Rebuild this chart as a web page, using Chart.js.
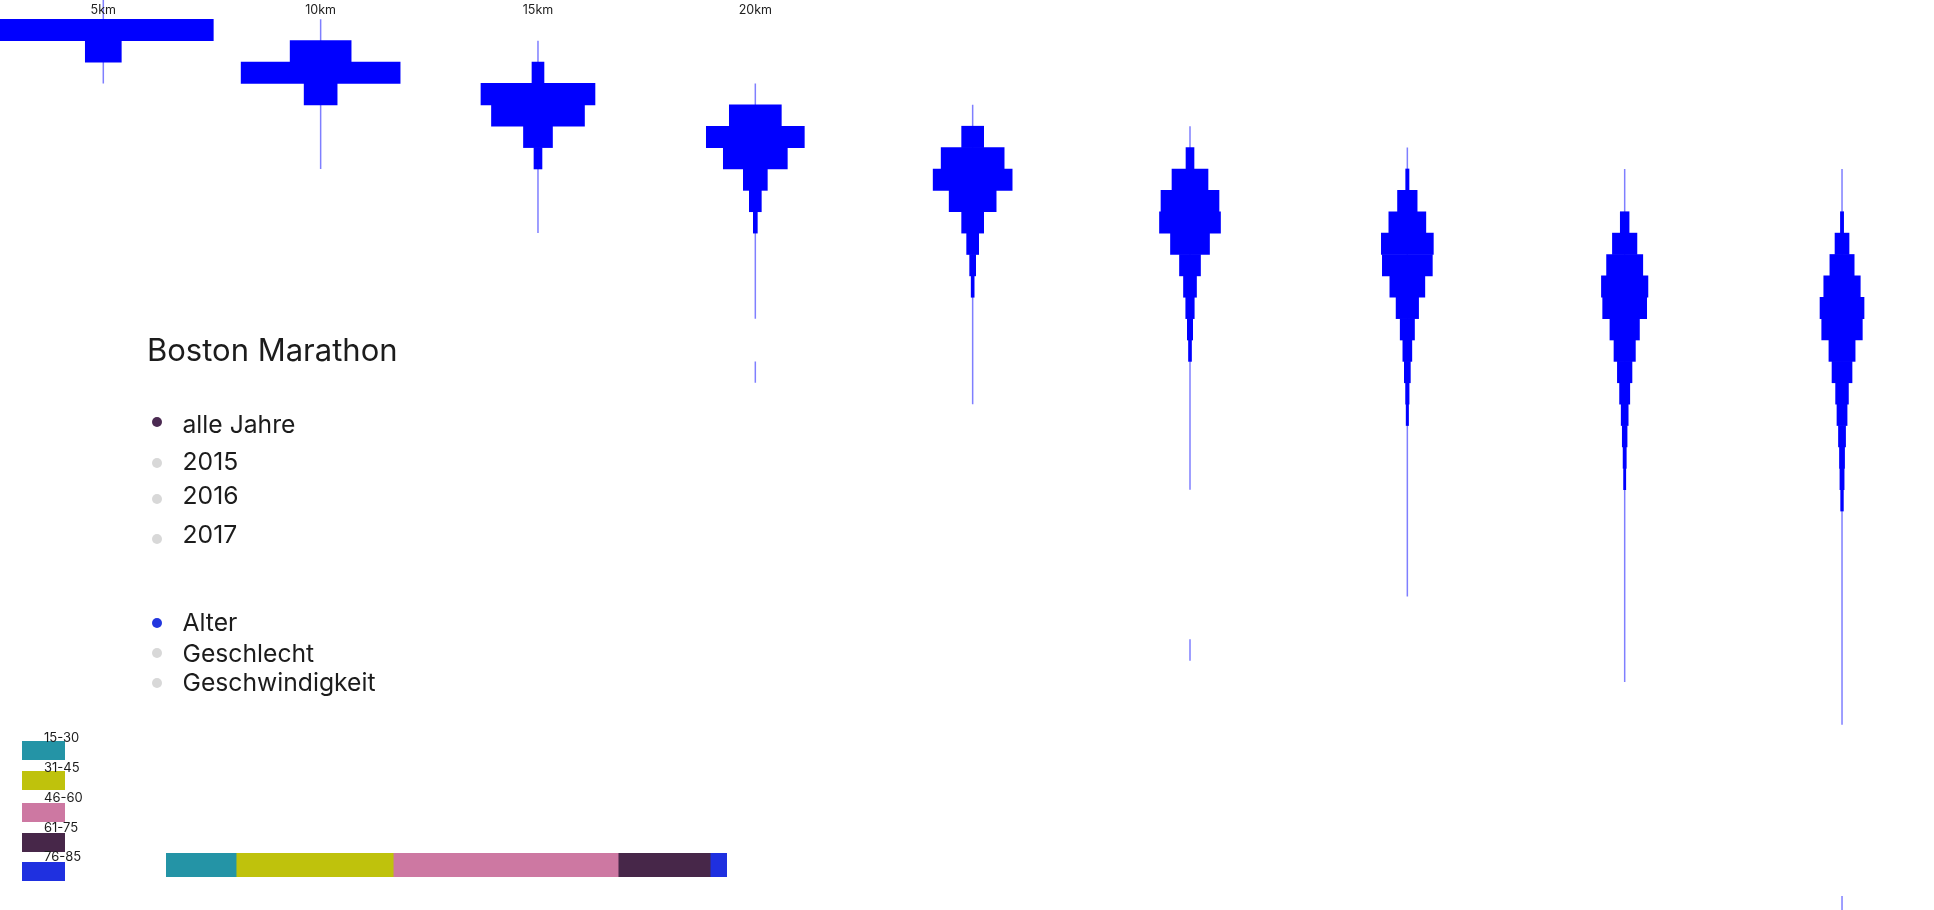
<!DOCTYPE html>
<html>
<head>
<meta charset="utf-8">
<title>Boston Marathon</title>
<script src="https://cdn.jsdelivr.net/npm/chart.js@4.4.1/dist/chart.umd.min.js"></script>
<style>
  html, body { margin: 0; padding: 0; background: #fff; }
  body { position: relative; width: 1934px; height: 910px; overflow: hidden; font-family: Inter, "Noto Sans", sans-serif; color: #1c1c1c; }
  #main { position: absolute; left: 0; top: 0; }
  #ageWrap { position: absolute; left: 166px; top: 853px; width: 561px; height: 24px; }
  .txt { position: absolute; line-height: 0; white-space: nowrap; }
  .dot { position: absolute; width: 10px; height: 10px; border-radius: 50%; }
  .swatch { position: absolute; left: 22px; width: 43px; height: 19px; }
</style>
</head>
<body>
<canvas id="main" width="1934" height="910"></canvas>
<div id="ageWrap"><canvas id="ageChart" width="561" height="24"></canvas></div>
<div id="overlay"></div>
<script>
// Messpunkte, nur die ersten vier sind beschriftet
const checkpoints = ['5km', '10km', '15km', '20km', '25km', '30km', '35km', '40km', 'Ziel']
const tickLabels = ['5km', '10km', '15km', '20km']

// Laeufer pro Zeitfenster (relative Breite), ab dem ersten besetzten Zeitfenster
const firstBin = [0, 1, 2, 4, 5, 6, 7, 9, 9]
const counts5km = [220, 36]
const counts10km = [61, 159, 33]
const counts15km = [12, 114, 93, 29, 8]
const counts20km = [52, 98, 64, 24, 12, 4]
const counts25km = [22, 63, 79, 47, 22, 12, 6, 3]
const counts30km = [8, 36, 58, 61, 39, 21, 13, 8.5, 5.3, 3]
const counts35km = [3.3, 19.6, 37, 52, 50, 35, 22.5, 14.3, 9, 6, 3.5, 2.4]
const counts40km = [8.8, 24.5, 36.2, 46.5, 44, 29.5, 21.4, 14.6, 10.2, 7, 4.8, 3.2, 2.2]
const countsZiel = [3.2, 14, 24.3, 36.5, 44, 40.6, 26.2, 20, 12.8, 10.1, 7.1, 5.1, 4.2, 2.7]

// Spanne schnellste bis langsamste Zeit (Zeitfenster-Grenzen) und Ausreisser
const rangeStart = [-1, 0, 1, 3, 4, 5, 6, 7, 7]
const rangeEnd = [3, 7, 10, 14, 18, 22, 27, 31, 33]
const outlierBin = [null, null, null, 16, null, 29, null, null, 41]

// Altersgruppen in Prozent
const ageGroups = ['15-30', '31-45', '46-60', '61-75', '76-85']
const ageShares = [12.5, 28.0, 40.1, 16.4, 3.0]
const ageColors = ['#2494a6', '#bfc20c', '#cd78a2', '#472749', '#1f30e0']

const yearOptions = ['alle Jahre', '2015', '2016', '2017']
const groupOptions = ['Alter', 'Geschlecht', 'Geschwindigkeit']

const binCounts = [counts5km, counts10km, counts15km, counts20km, counts25km, counts30km, counts35km, counts40km, countsZiel]
const WIDTH_UNITS = 217.34 // Breite eines Abstands zwischen zwei Messpunkten

const barDatasets = checkpoints.map((name, i) => ({
  type: 'bar',
  label: name,
  indexAxis: 'y',
  data: binCounts[i].map((c, j) => ({
    y: firstBin[i] + j,
    x: [i - c / (2 * WIDTH_UNITS), i + c / (2 * WIDTH_UNITS)]
  })),
  backgroundColor: '#0000ff',
  borderWidth: 0,
  grouped: false,
  barPercentage: 1,
  categoryPercentage: 1,
  order: 2
}))

const rangeDatasets = checkpoints.map((name, i) => {
  const points = [{ x: i, y: rangeStart[i] - 0.5 }, { x: i, y: rangeEnd[i] - 0.5 }]
  if (outlierBin[i] !== null) {
    points.push({ x: i, y: NaN }, { x: i, y: outlierBin[i] - 0.5 }, { x: i, y: outlierBin[i] + 0.5 })
  }
  return {
    type: 'line',
    label: name + ' Spanne',
    data: points,
    borderColor: 'rgba(0, 0, 255, 0.5)',
    borderWidth: 1.5,
    pointRadius: 0,
    fill: false,
    spanGaps: false,
    order: 1
  }
})

const checkpointLabels = {
  id: 'checkpointLabels',
  afterDatasetsDraw(chart) {
    const { ctx, scales: { x } } = chart
    ctx.save()
    ctx.font = '12.5px Inter'
    ctx.fillStyle = '#222'
    ctx.textAlign = 'center'
    ctx.textBaseline = 'alphabetic'
    tickLabels.forEach((label, i) => ctx.fillText(label, x.getPixelForValue(i), 13.5))
    ctx.restore()
  }
}

new Chart(document.getElementById('main'), {
  type: 'bar',
  data: { datasets: [...barDatasets, ...rangeDatasets] },
  options: {
    responsive: false,
    animation: false,
    events: [],
    layout: { padding: 0 },
    plugins: { legend: { display: false }, tooltip: { enabled: false } },
    scales: {
      x: { type: 'linear', display: false, offset: false, bounds: 'data', beginAtZero: false, grace: 0, min: -0.4753, max: 8.4232 },
      y: { type: 'linear', display: false, offset: false, bounds: 'data', beginAtZero: false, grace: 0, reverse: true, min: -1.4032, max: 41.16 }
    }
  },
  plugins: [checkpointLabels]
})

new Chart(document.getElementById('ageChart'), {
  type: 'bar',
  data: {
    labels: ['Alter'],
    datasets: ageGroups.map((g, i) => ({
      label: g,
      data: [ageShares[i]],
      backgroundColor: ageColors[i],
      borderWidth: 0,
      barPercentage: 1,
      categoryPercentage: 1
    }))
  },
  options: {
    indexAxis: 'y',
    responsive: false,
    animation: false,
    events: [],
    layout: { padding: 0 },
    plugins: { legend: { display: false }, tooltip: { enabled: false } },
    scales: {
      x: { stacked: true, display: false, min: 0, max: 100 },
      y: { stacked: true, display: false }
    }
  }
})

// Titel und Auswahl-Legende
const overlay = document.getElementById('overlay')
function addText(text, left, baseline, size) {
  const el = document.createElement('div')
  el.className = 'txt'
  el.textContent = text
  el.style.left = left + 'px'
  el.style.top = (baseline - 0.3633 * size) + 'px'
  el.style.fontSize = size + 'px'
  overlay.appendChild(el)
}
function addDot(cy, color) {
  const el = document.createElement('div')
  el.className = 'dot'
  el.style.left = '152px'
  el.style.top = (cy - 5) + 'px'
  el.style.background = color
  overlay.appendChild(el)
}

addText('Boston Marathon', 147, 361.5, 31)

const yearBaselines = [433.3, 470, 504.3, 543.3]
const yearDots = [422, 462.7, 498.7, 538.7]
yearOptions.forEach((t, i) => {
  addText(t, 182.5, yearBaselines[i], 24.7)
  addDot(yearDots[i], i === 0 ? '#4b2a52' : '#d8d8d8')
})

const groupBaselines = [631, 661.7, 691]
const groupDots = [623.3, 653.3, 682.5]
groupOptions.forEach((t, i) => {
  addText(t, 182.5, groupBaselines[i], 24.7)
  addDot(groupDots[i], i === 0 ? '#2236de' : '#d8d8d8')
})

const swatchTops = [741, 771, 803, 832.5, 862]
const swatchLabelBaselines = [741.7, 771.7, 801.7, 831.5, 861.2]
ageGroups.forEach((g, i) => {
  const sw = document.createElement('div')
  sw.className = 'swatch'
  sw.style.top = swatchTops[i] + 'px'
  sw.style.background = ageColors[i]
  overlay.appendChild(sw)
  addText(g, 44, swatchLabelBaselines[i], 13)
})
</script>
</body>
</html>
